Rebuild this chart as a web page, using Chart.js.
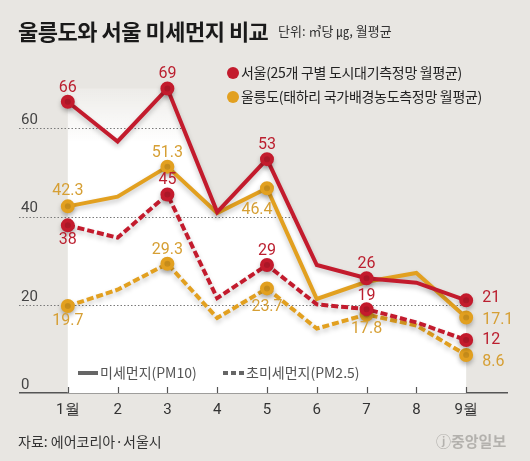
<!DOCTYPE html>
<html>
<head>
<meta charset="utf-8">
<script src="https://cdn.jsdelivr.net/npm/chart.js@4"></script>
<style>
  body { margin: 0; background: #e8e6e2; }
  #wrap { position: relative; width: 530px; height: 461px; overflow: hidden; font-family: "Noto Sans CJK KR", sans-serif; }
  #chart { position: absolute; left: 0; top: 0; }
  .txt { position: absolute; white-space: nowrap; line-height: 1; }
  #title { left: 18px; top: 19px; font-size: 22px; font-weight: 700; color: #1a1a1a; letter-spacing: -0.5px; }
  #unit { left: 278px; top: 24px; font-size: 13px; color: #333; }
  .city { left: 227px; font-size: 14px; color: #222; letter-spacing: -0.3px; }
  .dot { display: inline-block; width: 12px; height: 12px; border-radius: 50%; margin-right: 2px; vertical-align: -1px; }
  .kind { top: 365px; font-size: 14px; color: #555; }
  .kind i { display: inline-block; width: 20px; height: 4px; background: #666; vertical-align: 3px; margin-right: 2px; }
  .kind i.dash { width: 21px; background: repeating-linear-gradient(90deg, #666 0 5px, transparent 5px 8px); }
  #source { left: 18px; top: 434px; font-size: 14px; color: #333; }
  #logo { left: 436px; top: 433px; font-size: 15px; font-weight: 700; color: #b3b1ad; }
</style>
</head>
<body>
<div id="wrap">
  <canvas id="chart" width="530" height="461"></canvas>
  <div class="txt" id="title">울릉도와 서울 미세먼지 비교</div>
  <div class="txt" id="unit">단위: ㎥당 ㎍, 월평균</div>
  <div class="txt city" id="city0" style="top:65px"></div>
  <div class="txt city" id="city1" style="top:89px"></div>
  <div class="txt kind" style="left:78px"><i></i>미세먼지(PM10)</div>
  <div class="txt kind" style="left:223px"><i class="dash"></i>초미세먼지(PM2.5)</div>
  <div class="txt" id="source">자료: 에어코리아·서울시</div>
  <div class="txt" id="logo">ⓙ중앙일보</div>
</div>
<script>
// months 1..9
const months = [1, 2, 3, 4, 5, 6, 7, 8, 9];
const monthLabels = ['1월', '2', '3', '4', '5', '6', '7', '8', '9월'];
const yTicks = [0, 20, 40, 60];

// 서울 / 울릉도, PM10 and PM2.5
const seoulPM10 = [66, 57, 69, 41, 53, 29, 26, 25, 21];
const ulleungPM10 = [42.3, 44.5, 51.3, 40.8, 46.4, 21.3, 25.2, 27.2, 17.1];
const seoulPM25 = [38, 35.2, 45, 21.5, 29, 20.1, 19, 16, 12];
const ulleungPM25 = [19.7, 23.4, 29.3, 17, 23.7, 14.6, 17.8, 15.3, 8.6];

const cityNames = ['서울(25개 구별 도시대기측정망 월평균)', '울릉도(태하리 국가배경농도측정망 월평균)'];

const RED = '#c31b2d';
const ORANGE = '#e2a020';
const RED_TXT = '#bb1f2f';
const ORANGE_TXT = '#d69f34';

// which months get a dot + value, per series
const seoulPM10Marked = [0, 2, 4, 6, 8];
const seoulPM25Marked = [0, 2, 4, 6, 8];
const ulleungPM10Marked = [0, 2, 4, 8];
const ulleungPM25Marked = [0, 2, 4, 6, 8];

// label offsets from the dot: [dx, dy, align]
const seoulPM10Place = [[0, -14], [0, -15], [0, -14], [0, -14], [16, -2, 'left']];
const seoulPM25Place = [[0, 15], [0, -14], [0, -14], [0, -13], [16, 0, 'left']];
const ulleungPM10Place = [[0, -15], [0, -14], [-10, 22], [16, 2, 'left']];
const ulleungPM25Place = [[0, 15], [0, -14], [0, 19], [0, 15], [16, 7, 'left']];

[RED, ORANGE].forEach((c, i) => {
  document.getElementById('city' + i).innerHTML = '<span class="dot" style="background:' + c + '"></span>' + cityNames[i];
});

function series(data, marked, place, color, txtColor, dashed) {
  const radius = months.map((m, i) => marked.includes(i) ? 5 : 0);
  return {
    data: data.map((v, i) => ({ x: months[i], y: v })),
    marked: marked,
    place: place,
    labelColor: txtColor,
    borderColor: color,
    backgroundColor: color,
    pointBackgroundColor: color,
    pointBorderColor: color,
    pointRadius: radius,
    pointHoverRadius: radius,
    borderWidth: 4,
    borderDash: dashed ? [7, 3] : [],
    borderJoinStyle: 'miter',
    borderCapStyle: 'butt',
    tension: 0,
    fill: false
  };
}

// white panel: flat top up to the March peak, then follows 서울 PM10 down to September
function panelPath(ctx, chart) {
  const pts = chart.getDatasetMeta(0).data;
  const peak = pts.reduce((a, p, i) => (p.y < pts[a].y ? i : a), 0);
  const bottom = chart.chartArea.bottom;
  ctx.moveTo(pts[0].x, bottom);
  ctx.lineTo(pts[0].x, pts[peak].y);
  for (let i = peak; i < pts.length; i++) ctx.lineTo(pts[i].x, pts[i].y);
  ctx.lineTo(pts[pts.length - 1].x, bottom);
  ctx.closePath();
}

const panelPlugin = {
  id: 'panel',
  beforeDatasetsDraw(chart) {
    const ctx = chart.ctx;
    const x = chart.scales.x, y = chart.scales.y;
    const area = chart.chartArea;
    const top = chart.getDatasetMeta(0).data[2].y;

    ctx.save();
    const g = ctx.createLinearGradient(0, top, 0, top + 55);
    g.addColorStop(0, 'rgba(255,255,255,0.25)');
    g.addColorStop(1, 'rgba(255,255,255,1)');
    ctx.fillStyle = g;
    ctx.beginPath();
    panelPath(ctx, chart);
    ctx.fill();
    ctx.restore();

    // dotted guides: left margin + inside the panel
    ctx.save();
    ctx.beginPath();
    ctx.rect(0, 0, x.getPixelForValue(months[0]), area.bottom);
    panelPath(ctx, chart);
    ctx.clip();
    ctx.strokeStyle = '#7a7a7a';
    ctx.lineWidth = 1;
    ctx.setLineDash([1.5, 2]);
    yTicks.filter(v => v > 0).forEach(v => {
      const py = Math.round(y.getPixelForValue(v)) + 0.5;
      ctx.beginPath();
      ctx.moveTo(area.left - 1, py);
      ctx.lineTo(x.getPixelForValue(months[months.length - 1]), py);
      ctx.stroke();
    });
    ctx.restore();

    // small month ticks standing on the axis
    ctx.save();
    ctx.strokeStyle = '#555';
    ctx.lineWidth = 1.2;
    months.forEach(m => {
      const px = Math.round(x.getPixelForValue(m)) + 0.5;
      ctx.beginPath();
      ctx.moveTo(px, area.bottom - 6);
      ctx.lineTo(px, area.bottom);
      ctx.stroke();
    });
    ctx.restore();
  }
};

const shadowPlugin = {
  id: 'shadow',
  beforeDatasetDraw(chart) {
    const ctx = chart.ctx;
    ctx.save();
    ctx.shadowColor = 'rgba(0,0,0,0.22)';
    ctx.shadowBlur = 5;
    ctx.shadowOffsetY = 3;
  },
  afterDatasetDraw(chart) {
    chart.ctx.restore();
  }
};

const valuePlugin = {
  id: 'values',
  afterDatasetsDraw(chart) {
    const ctx = chart.ctx;
    ctx.save();
    ctx.font = '16px Roboto';
    ctx.textBaseline = 'middle';
    chart.data.datasets.forEach((ds, di) => {
      const meta = chart.getDatasetMeta(di);
      ds.marked.forEach((idx, k) => {
        const p = meta.data[idx];
        const place = ds.place[k];
        ctx.textAlign = place[2] || 'center';
        ctx.fillStyle = ds.labelColor;
        ctx.fillText(String(ds.data[idx].y), p.x + place[0], p.y + place[1]);
      });
    });
    ctx.restore();
  }
};

// first dataset is drawn last (on top)
const datasets = [
  series(seoulPM10, seoulPM10Marked, seoulPM10Place, RED, RED_TXT, false),
  series(seoulPM25, seoulPM25Marked, seoulPM25Place, RED, RED_TXT, true),
  series(ulleungPM10, ulleungPM10Marked, ulleungPM10Place, ORANGE, ORANGE_TXT, false),
  series(ulleungPM25, ulleungPM25Marked, ulleungPM25Place, ORANGE, ORANGE_TXT, true)
];

new Chart(document.getElementById('chart'), {
  type: 'line',
  data: { datasets: datasets },
  options: {
    responsive: false,
    animation: false,
    devicePixelRatio: 1,
    layout: { padding: { left: 18, right: 23, top: 40, bottom: 34 } },
    plugins: {
      legend: { display: false },
      tooltip: { enabled: false }
    },
    scales: {
      x: {
        type: 'linear',
        min: 0.04,
        max: 9.82,
        afterBuildTicks: s => { s.ticks = months.map(v => ({ value: v })); },
        grid: { display: false, drawTicks: false },
        border: { display: true, color: '#555', width: 1.5 },
        ticks: {
          autoSkip: false,
          maxRotation: 0,
          padding: 8,
          color: '#333',
          font: { family: 'Roboto', size: 15 },
          callback: v => monthLabels[months.indexOf(v)]
        }
      },
      y: {
        min: 0,
        max: 80,
        afterBuildTicks: s => { s.ticks = yTicks.map(v => ({ value: v })); },
        grid: { display: false, drawTicks: false },
        border: { display: false },
        ticks: {
          mirror: true,
          padding: 1,
          labelOffset: -8,
          color: '#444',
          font: { family: 'Roboto', size: 15 }
        }
      }
    }
  },
  plugins: [panelPlugin, shadowPlugin, valuePlugin]
});
</script>
</body>
</html>
